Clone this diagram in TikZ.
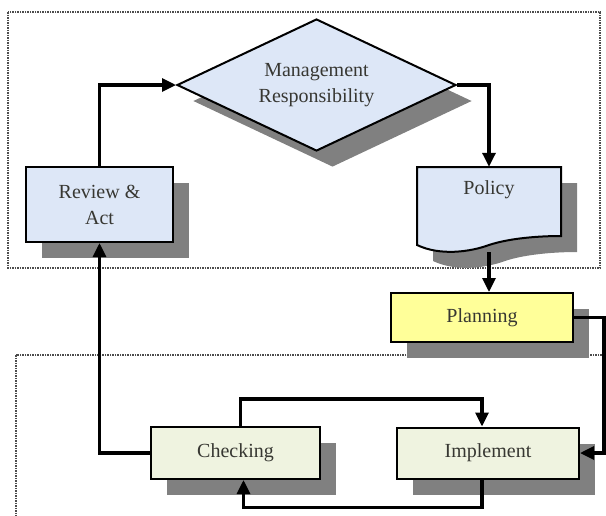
\documentclass[tikz,border=0pt]{standalone}
\usepackage{fontspec}
\setmainfont{Liberation Serif}
\usetikzlibrary{arrows.meta, positioning, shapes.geometric, shadows}
\definecolor{mgmtblue}{RGB}{221, 231, 247}
\definecolor{planyellow}{RGB}{255, 255, 153}
\definecolor{dogreen}{RGB}{239, 243, 224}
\definecolor{shadowgray}{RGB}{128, 128, 128}
\definecolor{labelgray}{RGB}{55, 55, 50}

% outline of the policy document (flat top, wavy bottom)
\newcommand{\docoutline}{(417,167) -- (561,167) -- (561,236)
  .. controls (540,236) and (510,238) .. (489,245)
  .. controls (470,252) and (440,256) .. (417,245) -- cycle}

\begin{document}
\begin{tikzpicture}[x=1pt, y=-1pt,
        box/.style={draw, line width=2pt, inner sep=0pt, align=center,
          font=\fontsize{20}{26}\selectfont, text=labelgray,
          drop shadow={shadow xshift=16pt, shadow yshift=-16pt, fill=shadowgray, opacity=1}},
        flow/.style={line width=3.2pt, -{Triangle[length=14pt, width=13pt]}},
        area/.style={draw=black!70, line width=1.5pt, densely dotted},
      ]
        \useasboundingbox (0,0) rectangle (606,515);
        \clip (0,0) rectangle (606,515);

        % the two dotted areas
        \draw[area] (8,12) rectangle (600,268);
        \draw[area] (16,355) rectangle (640,560);

        \node[box, diamond, fill=mgmtblue, aspect=2.1, minimum width=279pt, minimum height=132pt]
          (mgmt) at (316.5,85) {Management\\Responsibility};
        \node[box, fill=mgmtblue, minimum width=147pt, minimum height=75pt]
          (review) at (99.5,204.5) {Review \&\\Act};

        % policy is a document shape, drawn by hand round an empty node
        \node[inner sep=0pt, minimum width=144pt, minimum height=81pt]
          (policy) at (489,207.5) {};
        \fill[shadowgray, shift={(16,16)}] \docoutline;
        \filldraw[fill=mgmtblue, line width=2pt] \docoutline;
        \node[inner sep=0pt, font=\fontsize{20}{26}\selectfont, text=labelgray]
          (policytext) at (489,190) {Policy};

        \node[box, fill=planyellow, minimum width=182pt, minimum height=49pt]
          (planning) at (482,317.5) {Planning};
        \node[box, fill=dogreen, minimum width=182pt, minimum height=51pt]
          (implement) at (488,453) {Implement};
        \node[box, fill=dogreen, minimum width=169pt, minimum height=52pt]
          (checking) at (235.5,453) {Checking};

        \coordinate (planout) at (604,317.5);

        \draw[flow] (review.north) |- (mgmt.west);
        \draw[flow] (mgmt.east) -| (policy.north);
        \draw[flow] ([yshift=-4pt]policy.south) -- (policy.south |- planning.north);
        \draw[flow] (planning.east) -- (planout) |- (implement.east);
        \draw[flow] ([xshift=5pt]checking.north) -- ++(0,-27) -| ([xshift=-6pt]implement.north);
        \draw[flow] ([xshift=-6pt]implement.south) -- ++(0,28) -| ([xshift=8pt]checking.south);
        \draw[flow] (checking.west) -| (review.south);
      \end{tikzpicture}
\end{document}
